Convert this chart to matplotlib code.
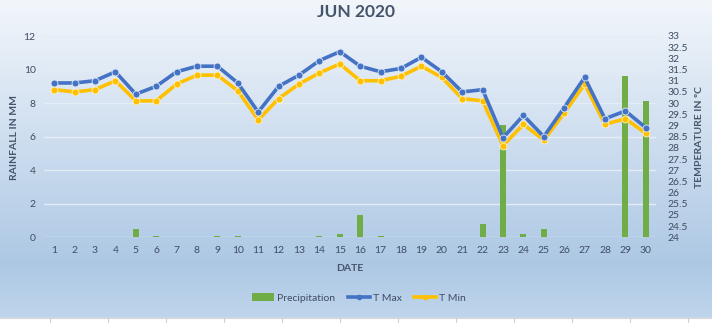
import numpy as np
import matplotlib
matplotlib.use("Agg")
import matplotlib.pyplot as plt
from matplotlib.lines import Line2D
from matplotlib.patches import Patch

plt.rcParams['font.family'] = ['Lato', 'DejaVu Sans']

days = list(range(1, 31))
precipitation = [0, 0, 0, 0, 0.5, 0.05, 0, 0, 0.05, 0.05,
                 0, 0, 0, 0.05, 0.2, 1.3, 0.05, 0, 0, 0,
                 0, 0.8, 6.7, 0.2, 0.5, 0, 0, 0, 9.6, 8.1]
t_max = [30.9, 30.9, 31.0, 31.4, 30.4, 30.75, 31.4, 31.65, 31.65, 30.9,
         29.6, 30.75, 31.25, 31.9, 32.3, 31.65, 31.4, 31.55, 32.05, 31.4,
         30.5, 30.6, 28.45, 29.45, 28.5, 29.8, 31.15, 29.3, 29.65, 28.9]
t_min = [30.6, 30.5, 30.6, 31.0, 30.1, 30.1, 30.85, 31.25, 31.25, 30.55,
         29.25, 30.2, 30.85, 31.35, 31.75, 31.0, 31.0, 31.2, 31.65, 31.15,
         30.2, 30.1, 28.1, 29.05, 28.35, 29.55, 30.85, 29.05, 29.3, 28.65]
rain_ticks = list(range(0, 13, 2))
temp_ticks = [24 + 0.5 * i for i in range(19)]

W, H = 712, 323
fig = plt.figure(figsize=(W / 100, H / 100), dpi=100)

# background: vertical blue gradient with a white strip at the very bottom
bg = fig.add_axes([0, 0, 1, 1], zorder=-10)
rows = np.linspace(0, 1, 400)
top = np.array([0.95, 0.965, 0.985])
mid = np.array([0.68, 0.785, 0.895])
low = np.array([0.75, 0.835, 0.925])
grad = np.empty((400, 1, 3))
for i, r in enumerate(rows):
    if r < 0.83:
        t = r / 0.83
        grad[i, 0] = top + (mid - top) * t
    else:
        t = (r - 0.83) / 0.17
        grad[i, 0] = mid + (low - mid) * t
bg.imshow(grad, aspect='auto', extent=[0, W, 318, 0])
bg.axhspan(318, H, color='white')
bg.axhline(318, color='#d6d6d6', lw=0.8)
for x in np.arange(50, W, 58):
    bg.plot([x, x], [318, H], color='#d0d0d0', lw=0.8)
bg.set_xlim(0, W)
bg.set_ylim(H, 0)
bg.axis('off')

ax = fig.add_axes([44 / W, (H - 237.3) / H, (656 - 44) / W, (237.3 - 36) / H])
ax.patch.set_alpha(0)
ax2 = ax.twinx()
ax2.patch.set_alpha(0)

text_col = '#44546a'
tick_col = '#3f4d63'

ax.bar(days, precipitation, width=0.3, color='#70ad47', zorder=2)
ax.set_ylim(0, 12)
ax.set_yticks(rain_ticks)
ax.set_xlim(0.5, 30.5)
ax.set_xticks(days)
ax.grid(axis='y', color='#e4ecf5', lw=1.0, zorder=0)
ax.set_axisbelow(True)

ax2.plot(days, t_max, color='#4472c4', lw=2.6, marker='o', ms=5,
         mfc='#4472c4', mec='#dfe8f5', mew=0.6, zorder=4)
ax2.plot(days, t_min, color='#ffc000', lw=2.6, marker='o', ms=5,
         mfc='#ffc000', mec='#fff2c8', mew=0.6, zorder=3)
ax2.set_ylim(24, 33)
ax2.set_yticks(temp_ticks)
ax2.set_yticklabels([f'{v:g}' for v in temp_ticks])

for a in (ax, ax2):
    for s in a.spines.values():
        s.set_visible(False)
    a.tick_params(length=0, colors=tick_col, labelsize=7.5)
ax.tick_params(axis='y', pad=6)
ax.tick_params(axis='x', pad=6)
ax2.tick_params(axis='y', pad=8)

ax.set_xlabel('DATE', fontsize=7.5, fontweight='bold', color=text_col, labelpad=7)
fig.text(15 / W, 1 - 137 / H, 'RAINFALL IN MM', rotation=90, ha='center',
         va='center', fontsize=7.5, fontweight='bold', color=text_col)
fig.text(699 / W, 1 - 137 / H, 'TEMPERATURE IN ºC', rotation=90, ha='center',
         va='center', fontsize=7.5, fontweight='bold', color=text_col)

fig.text(356 / W, 1 - 12 / H, 'JUN 2020', ha='center', va='center',
         fontsize=12.5, fontweight='bold', color='#44546a')

handles = [
    Patch(facecolor='#70ad47', edgecolor='none'),
    Line2D([], [], color='#4472c4', lw=2.6, marker='o', ms=3, mfc='#4472c4'),
    Line2D([], [], color='#ffc000', lw=2.6, marker='o', ms=3, mfc='#ffc000'),
]
fig.legend(handles, ['Precipitation', 'T Max', 'T Min'], loc='center',
           bbox_to_anchor=(359 / W, 1 - 298 / H), ncol=3, frameon=False,
           fontsize=7.5, labelcolor=tick_col, handlelength=2.1, handletextpad=0.3,
           columnspacing=1.2, handleheight=0.8)

fig.savefig('out.png', dpi=100)
